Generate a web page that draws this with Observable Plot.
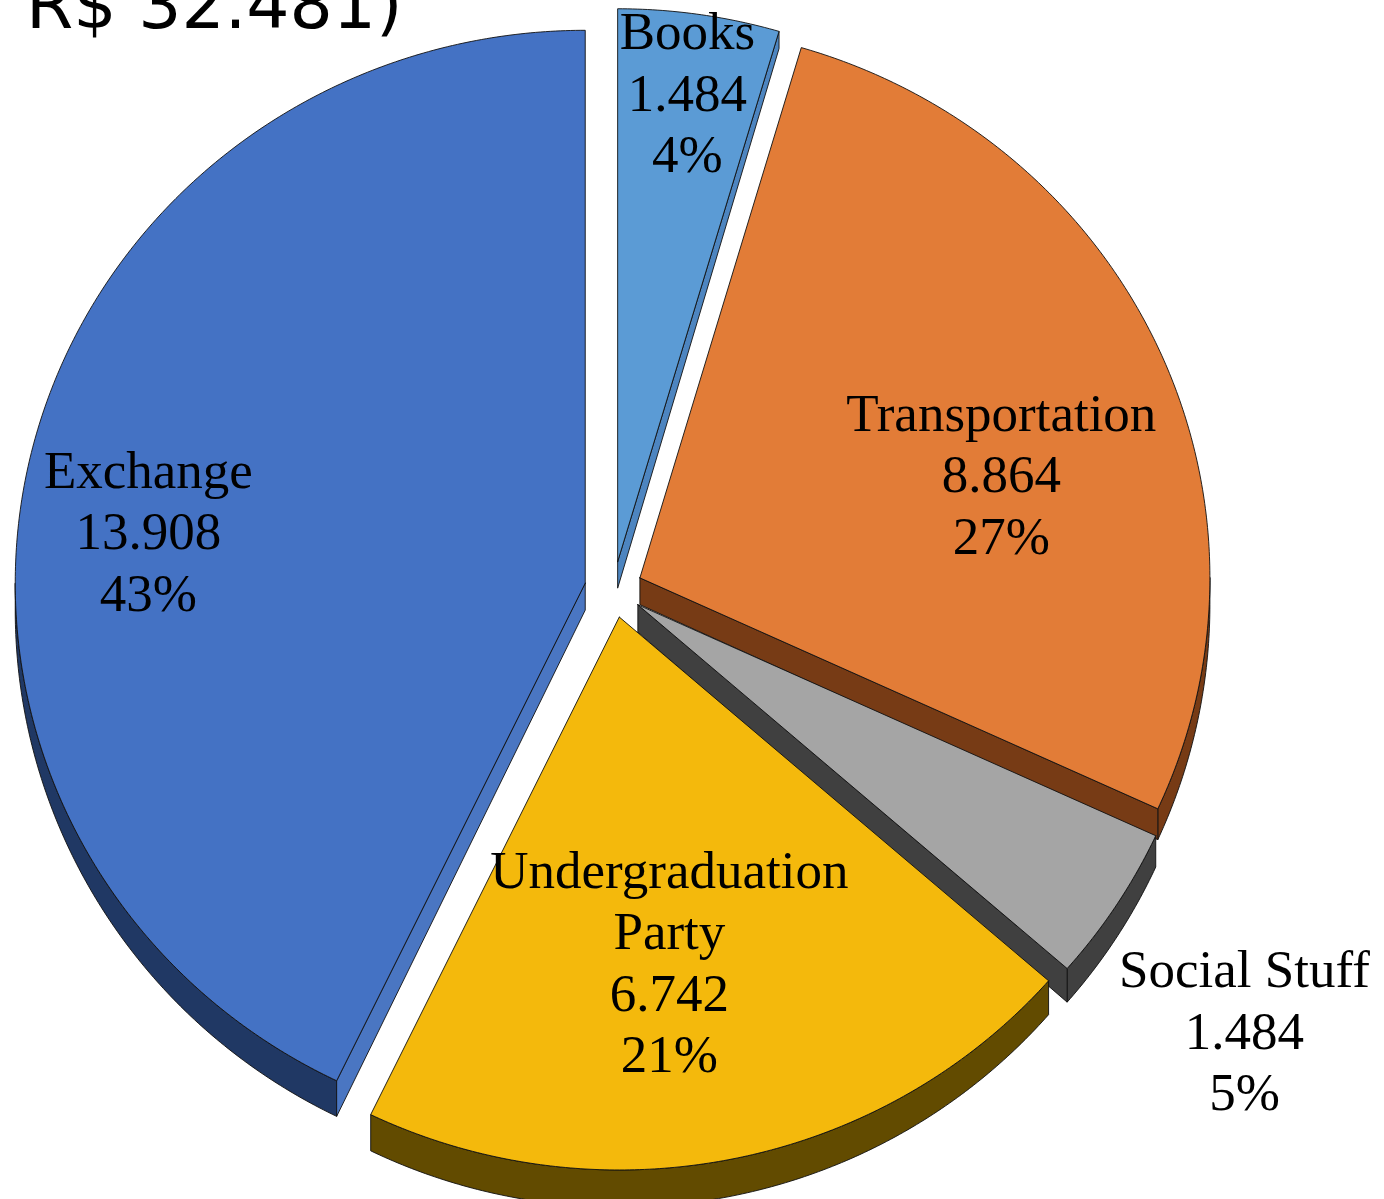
<!DOCTYPE html>
<html>
<head>
<meta charset="utf-8">
<script src="https://cdn.jsdelivr.net/npm/d3@7"></script>
<script src="https://cdn.jsdelivr.net/npm/@observablehq/plot@0.6"></script>
<style>
  html, body { margin: 0; padding: 0; background: #fff; }
  #wrap { position: relative; width: 1384px; height: 1199px; overflow: hidden; }
  #title { position: absolute; left: 26px; top: -29px; z-index: 2; font-family: "DejaVu Sans", sans-serif;
           font-size: 68px; line-height: 68px; white-space: nowrap; color: #000; }
  #chart svg { display: block; }
</style>
</head>
<body>
<div id="wrap">
  <div id="title"></div>
  <div id="chart"></div>
</div>
<script>
// ---------------- data ----------------
const categories = ["Books", "Transportation", "Social Stuff", "Undergraduation Party", "Exchange"];
const values = [1484, 8864, 1484, 6742, 13908];          // R$
const percentLabels = ["4%", "27%", "5%", "21%", "43%"];
const totalValue = 32481;                                 // R$, from the title

// ---------------- styling / layout ----------------
const topColors  = ["#5b9bd5", "#e27c37", "#a5a5a5", "#f4b90c", "#4472c4"];
const rimColors  = ["#3f6f9c", "#773b15", "#404040", "#624b00", "#203864"];
const edgeColors = ["#4d85c0", "#773b15", "#404040", "#624b00", "#4a76c2"];
// label placement: radius fraction and angular nudge (degrees) relative to slice middle
const labelRadius = [0.856, 0.661, 1.314, 0.631, 0.772];
const labelNudge  = [0, 8, 3, 3.5, -6];

const W = 1384, H = 1199;
const cx = 613, cy = 589, R = 570;      // pie centre and radius in pixels
const k = 0.97;                          // vertical flattening of the tilted pie
const explode = 29 / R;                  // slice offset
const depth = y => (27 - 10 * y) / R;    // wall height (perspective: thicker at the front)

const fmt = d3.formatLocale({decimal: ",", thousands: ".", grouping: [3], currency: ["R$ ", ""]}).format(",d");
document.getElementById("title").textContent = "R$ " + fmt(totalValue) + ")";

// ---------------- geometry ----------------
const arcs = d3.pie().sort(null).value(d => d)(values);
const step = Math.PI / 360;

function sliceGeom(a, i) {
  const s = a.startAngle, e = a.endAngle, m = (s + e) / 2;
  const ox = explode * Math.sin(m), oy = explode * k * Math.cos(m);
  const pt = (t, r) => [ox + r * Math.sin(t), oy + r * k * Math.cos(t)];
  const down = p => [p[0], p[1] - depth(p[1])];
  const arcPts = (t0, t1) => {
    const n = Math.max(2, Math.ceil((t1 - t0) / step));
    return d3.range(n + 1).map(j => pt(t0 + (t1 - t0) * j / n, 1));
  };
  const tip = pt(0, 0);
  const top = [tip, ...arcPts(s, e), tip];
  const walls = [];
  // outer rim, visible where it faces the viewer (between 90° and 270°)
  const r0 = Math.max(s, Math.PI / 2), r1 = Math.min(e, 3 * Math.PI / 2);
  if (r1 > r0) {
    const up = arcPts(r0, r1);
    const poly = [...up, ...up.slice().reverse().map(down)];
    poly.push(poly[0]);
    walls.push({poly, fill: rimColors[i]});
  }
  // radial walls
  if (Math.sin(s) < -1e-6) {
    const p = pt(s, 1);
    walls.push({poly: [tip, p, down(p), down(tip), tip], fill: edgeColors[i]});
  }
  if (Math.sin(e) > 1e-6) {
    const p = pt(e, 1);
    walls.push({poly: [tip, p, down(p), down(tip), tip], fill: edgeColors[i]});
  }
  const lt = m + labelNudge[i] * Math.PI / 180;
  const label = pt(lt, labelRadius[i]);
  const name = categories[i].length > 14 ? categories[i].split(" ").join("\n") : categories[i];
  return {top, walls, label: {x: label[0], y: label[1], text: `${name}\n${fmt(values[i])}\n${percentLabels[i]}`}, i};
}

const geoms = arcs.map(sliceGeom);

const polyMark = (poly, fill) => Plot.line(poly, {
  x: d => d[0], y: d => d[1], fill, stroke: "#111", strokeWidth: 1, strokeOpacity: 0.9, strokeLinejoin: "round"
});

const marks = [];
geoms.forEach(g => g.walls.forEach(w => marks.push(polyMark(w.poly, w.fill))));
geoms.forEach(g => marks.push(polyMark(g.top, topColors[g.i])));
marks.push(Plot.text(geoms.map(g => g.label), {
  x: "x", y: "y", text: "text", fontSize: 53, lineHeight: 1.16, dy: -2,
  fontFamily: "Liberation Serif, Times New Roman, serif", fill: "#000", textAnchor: "middle", lineAnchor: "middle"
}));

const chart = Plot.plot({
  width: W, height: H, margin: 0,
  x: {domain: [-cx / R, (W - cx) / R], axis: null},
  y: {domain: [-(H - cy) / R, cy / R], axis: null},
  style: {background: "transparent"},
  marks
});
document.getElementById("chart").appendChild(chart);
</script>
</body>
</html>
